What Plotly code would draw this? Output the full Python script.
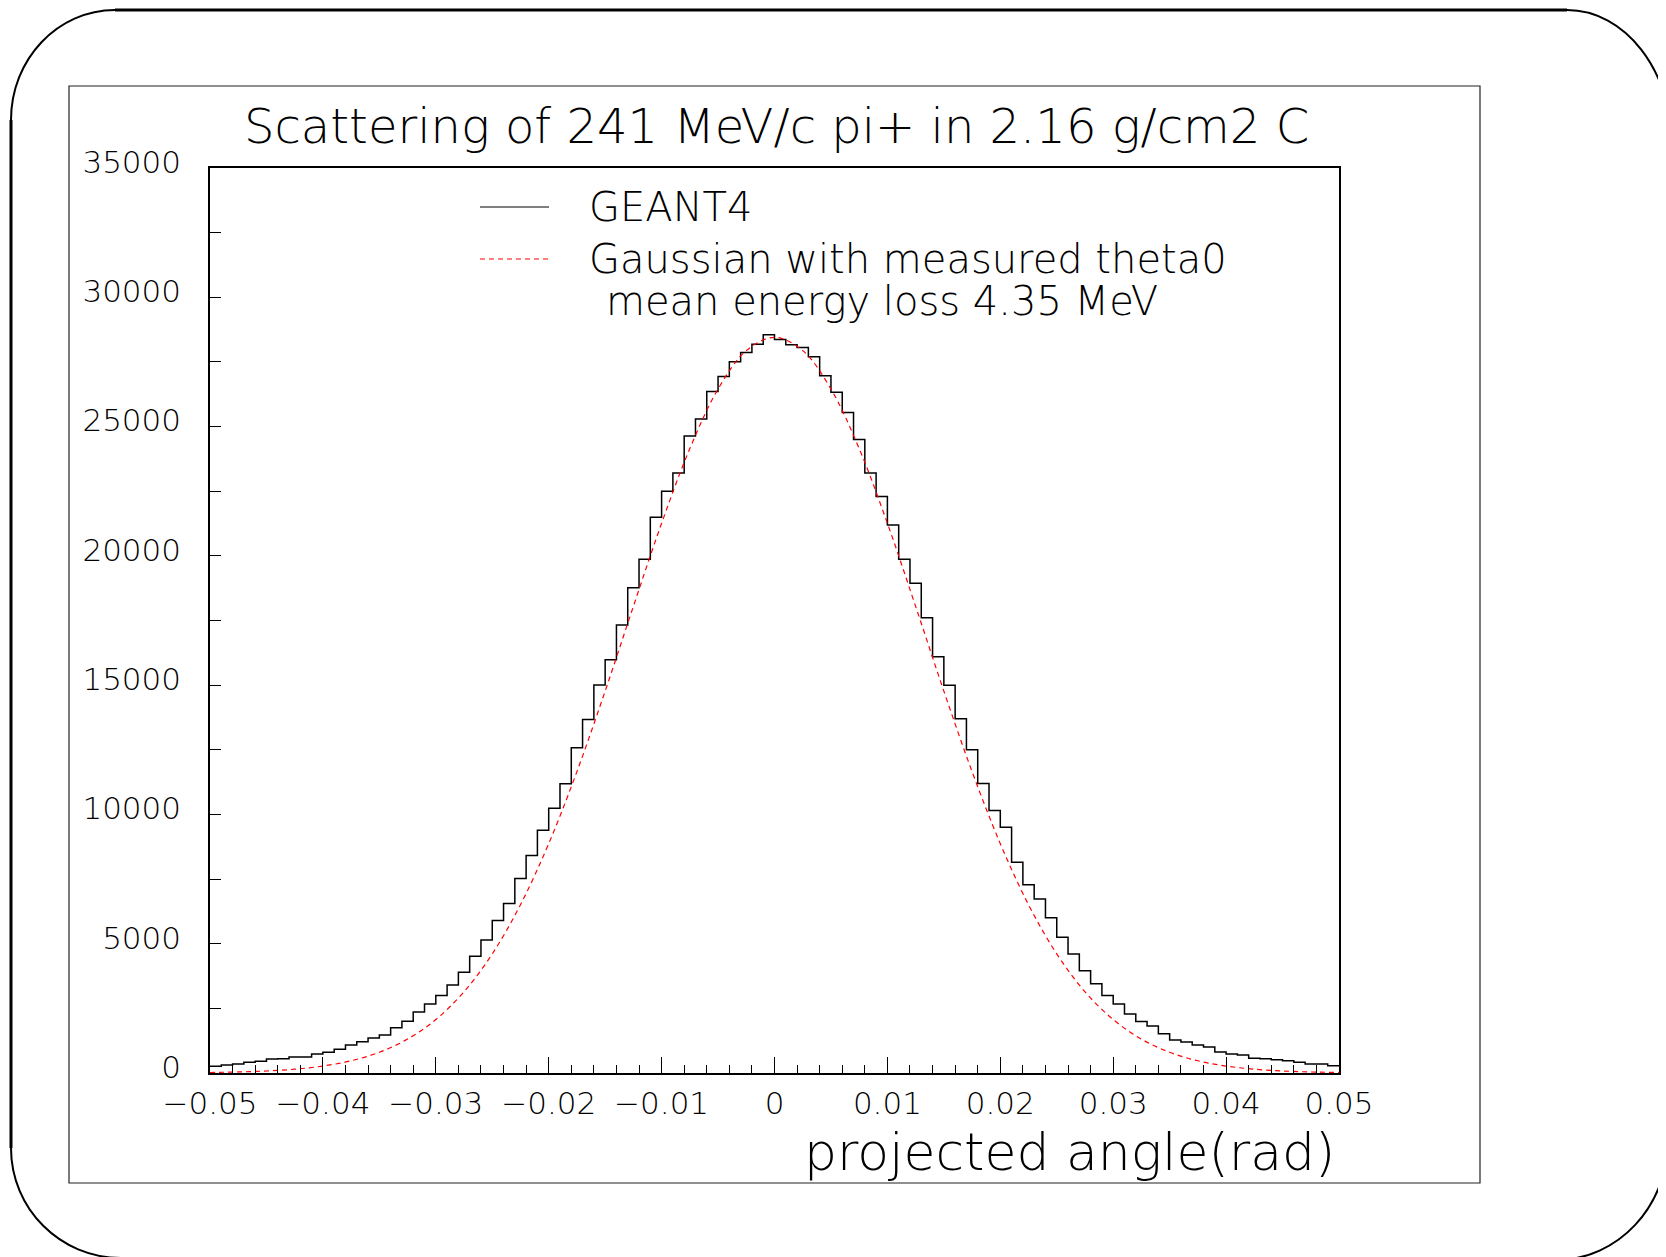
import plotly.graph_objects as go

# ---------------- data ----------------
bin_low = -0.05
bin_width = 0.001
geant4_counts = [
    258, 310, 348, 413, 450, 542, 555, 620, 620, 735,
    800, 916, 1084, 1213, 1355, 1471, 1754, 2000, 2361, 2670,
    2993, 3406, 3896, 4515, 5147, 5895, 6553, 7521, 8411, 9391,
    10243, 11184, 12578, 13674, 15003, 15983, 17325, 18770, 19866, 21491,
    22498, 23207, 24639, 25297, 26355, 26935, 27503, 27864, 28187, 28548,
    28367, 28161, 28058, 27697, 26961, 26329, 25542, 24500, 23200, 22300,
    21195, 19866, 18937, 17609, 16100, 15000, 13700, 12500, 11200, 10152,
    9507, 8153, 7276, 6734, 6000, 5250, 4600, 3950, 3450, 3000,
    2670, 2283, 1987, 1819, 1522, 1277, 1200, 1084, 1006, 813,
    735, 697, 568, 555, 516, 477, 413, 348, 348, 284,
]
gauss_x = [-0.05, -0.0475, -0.045, -0.0425, -0.04, -0.0375, -0.035, -0.0325, -0.03, -0.0275,
           -0.025, -0.0225, -0.02, -0.0175, -0.015, -0.0125, -0.01, -0.0075, -0.005, -0.0025,
           0.0, 0.0025, 0.005, 0.0075, 0.01, 0.0125, 0.015, 0.0175, 0.02, 0.0225,
           0.025, 0.0275, 0.03, 0.0325, 0.035, 0.0375, 0.04, 0.0425, 0.045, 0.0475, 0.05]
gauss_y = [20, 40, 78, 147, 269, 473, 801, 1311, 2067, 3141,
           4605, 6508, 8870, 11656, 14770, 18046, 21260, 24149, 26451, 27937,
           28450, 27937, 26451, 24149, 21260, 18046, 14770, 11656, 8870, 6508,
           4605, 3141, 2067, 1311, 801, 473, 269, 147, 78, 40, 20]

title_text = "Scattering of 241 MeV/c pi+ in 2.16 g/cm2 C"
x_title = "projected angle(rad)"
legend_labels = ["GEANT4", "Gaussian with measured theta0", "mean energy loss 4.35 MeV"]

# ---------------- layout geometry (reference pixels) ----------------
OFF = 8                      # page body margin in the browser
W, H = 1666 - OFF, 1257 - OFF
PL, PR, PT, PB = 210, 1339, 168, 1073   # plot area box in page pixels
FONT = "DejaVu Sans"
WEIGHT = 200


def px(xp):
    return (xp - PL) / (PR - PL)


def py(yp):
    return (PB - yp) / (PB - PT)


edges = [bin_low + bin_width * i for i in range(len(geant4_counts) + 1)]
hx = edges
hy = geant4_counts + [geant4_counts[-1]]

fig = go.Figure()
fig.add_trace(go.Scatter(x=hx, y=hy, mode="lines", line=dict(shape="hv", color="black", width=1.5),
                         name=legend_labels[0], showlegend=False, hoverinfo="skip"))
fig.add_trace(go.Scatter(x=gauss_x, y=gauss_y, mode="lines",
                         line=dict(shape="spline", color="#ff0000", width=1.2, dash="5px,4px"),
                         name=legend_labels[1], showlegend=False, hoverinfo="skip"))

shapes = []
# inner canvas frame
shapes.append(dict(type="rect", xref="paper", yref="paper", x0=px(69), x1=px(1480), y0=py(1183), y1=py(86),
                   line=dict(color="#222", width=1.2), layer="below"))

k = 0.5523
top_y, left_x = 10, 11
tl_rx, tl_ry = 104, 110
tr_x = 1567
right_x = 1672
tr_ry = 135
bl_y = 1148
b_r = 110


def cubic(p0, p1, p2, p3):
    return "M {:.5f},{:.5f} C {:.5f},{:.5f} {:.5f},{:.5f} {:.5f},{:.5f}".format(
        px(p0[0]), py(p0[1]), px(p1[0]), py(p1[1]), px(p2[0]), py(p2[1]), px(p3[0]), py(p3[1]))


# top line
shapes.append(dict(type="line", xref="paper", yref="paper", x0=px(left_x + tl_rx), x1=px(tr_x),
                   y0=py(top_y), y1=py(top_y), line=dict(color="black", width=3)))
# left line
shapes.append(dict(type="line", xref="paper", yref="paper", x0=px(left_x), x1=px(left_x),
                   y0=py(top_y + tl_ry), y1=py(bl_y), line=dict(color="black", width=3)))
# top-left arc
shapes.append(dict(type="path", xref="paper", yref="paper",
                   path=cubic((left_x, top_y + tl_ry), (left_x, top_y + tl_ry * (1 - k)),
                              (left_x + tl_rx * (1 - k), top_y), (left_x + tl_rx, top_y)),
                   line=dict(color="black", width=2)))
# top-right arc
rx2 = right_x - tr_x
shapes.append(dict(type="path", xref="paper", yref="paper",
                   path=cubic((tr_x, top_y), (tr_x + rx2 * k, top_y), (right_x, top_y + tr_ry * (1 - k)),
                              (right_x, top_y + tr_ry)),
                   line=dict(color="black", width=2)))
# bottom-left arc
shapes.append(dict(type="path", xref="paper", yref="paper",
                   path=cubic((left_x, bl_y), (left_x, bl_y + b_r * k), (left_x + b_r * (1 - k), bl_y + b_r),
                              (left_x + b_r, bl_y + b_r)),
                   line=dict(color="black", width=2)))
# bottom-right arc
shapes.append(dict(type="path", xref="paper", yref="paper",
                   path=cubic((right_x - 4, bl_y - 8), (right_x - 4, bl_y - 8 + 120 * k),
                              (right_x - 4 - 112 * (1 - k), bl_y - 8 + 120), (right_x - 4 - 112, bl_y - 8 + 120)),
                   line=dict(color="black", width=2)))

# legend samples
shapes.append(dict(type="line", xref="paper", yref="paper", x0=px(480), x1=px(549), y0=py(207), y1=py(207),
                   line=dict(color="black", width=1.2)))
shapes.append(dict(type="line", xref="paper", yref="paper", x0=px(480), x1=px(549), y0=py(259), y1=py(259),
                   line=dict(color="#ff0000", width=1.2, dash="5px,4px")))


def tfont(size):
    return dict(family=FONT, size=size, color="black", weight=WEIGHT)


annotations = [
    dict(text=title_text, x=px(776), y=py(126), xref="paper", yref="paper", xanchor="center", yanchor="middle",
         showarrow=False, font=tfont(48)),
    dict(text=x_title, x=px(1337), y=py(1152), xref="paper", yref="paper", xanchor="right", yanchor="middle",
         showarrow=False, font=tfont(52)),
    dict(text=legend_labels[0], x=px(587), y=py(207), xref="paper", yref="paper", xanchor="left",
         yanchor="middle", showarrow=False, font=tfont(40)),
    dict(text=legend_labels[1], x=px(587), y=py(259), xref="paper", yref="paper", xanchor="left",
         yanchor="middle", showarrow=False, font=tfont(40)),
    dict(text=legend_labels[2], x=px(604), y=py(301), xref="paper", yref="paper", xanchor="left",
         yanchor="middle", showarrow=False, font=tfont(40)),
]

fig.update_layout(
    width=W, height=H,
    margin=dict(l=PL - OFF, r=W - (PR - OFF), t=PT - OFF, b=H - (PB - OFF), pad=0),
    paper_bgcolor="white", plot_bgcolor="white",
    font=tfont(31),
    showlegend=False,
    shapes=shapes,
    annotations=annotations,
)
fig.update_xaxes(range=[-0.05, 0.05], tickmode="linear", tick0=-0.05, dtick=0.01,
                 ticks="inside", ticklen=16, tickwidth=1.2, tickcolor="black",
                 minor=dict(ticks="inside", ticklen=8, tickwidth=1, tickcolor="black", tick0=-0.05, dtick=0.002),
                 showline=True, mirror=True, linewidth=1.5, linecolor="black",
                 showgrid=False, zeroline=False, ticklabelstandoff=2,
                 tickfont=tfont(31))
fig.update_yaxes(range=[0, 35000], tickmode="linear", tick0=0, dtick=5000, tickformat="d",
                 ticks="inside", ticklen=11, tickwidth=1.2, tickcolor="black",
                 minor=dict(ticks="inside", ticklen=11, tickwidth=1, tickcolor="black", dtick=2500),
                 showline=True, mirror=True, linewidth=1.5, linecolor="black",
                 showgrid=False, zeroline=False, ticklabelstandoff=21, ticklabelshift=-6,
                 tickfont=tfont(31))

fig.write_html("out.html")
